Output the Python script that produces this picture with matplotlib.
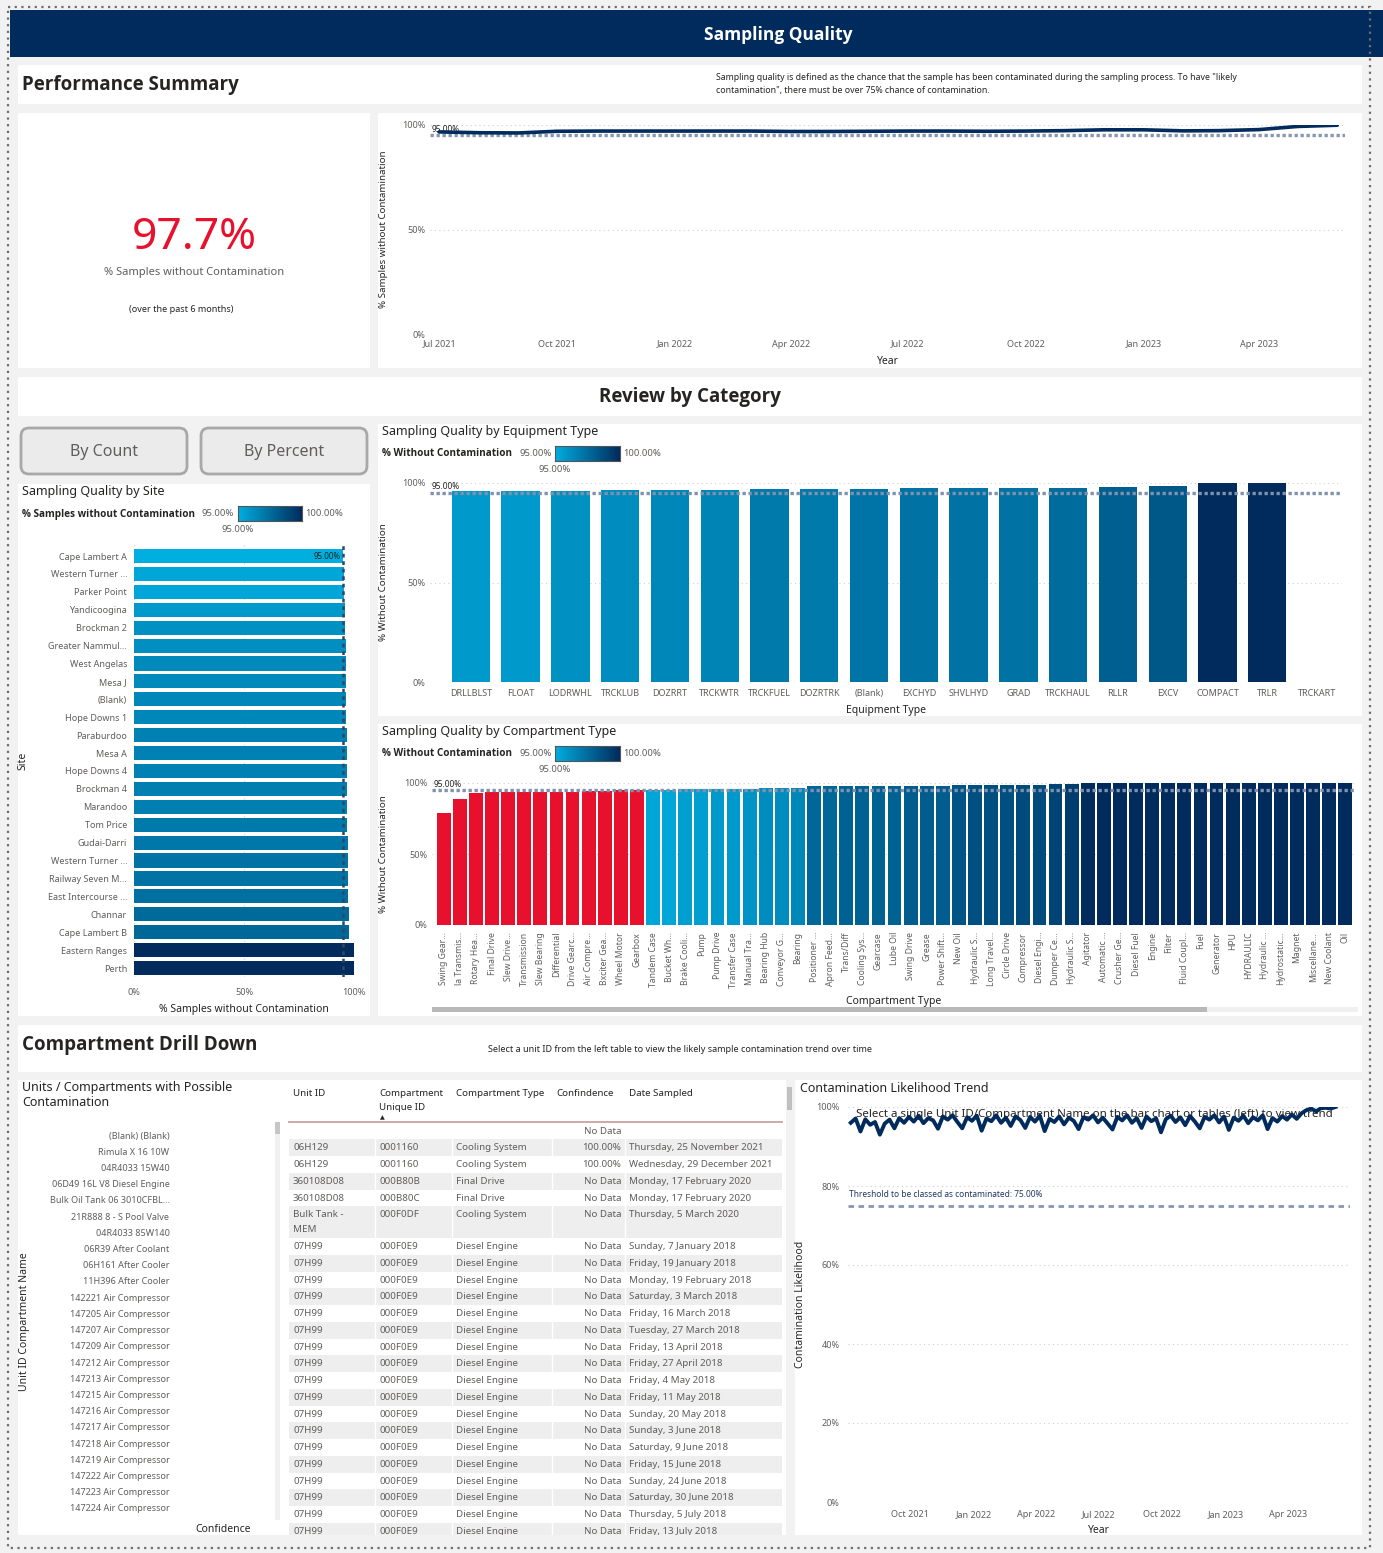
import numpy as np
import pandas as pd
import matplotlib
matplotlib.use('Agg')
import matplotlib.pyplot as plt
import matplotlib.dates as mdates
from matplotlib.patches import Rectangle, FancyBboxPatch
from matplotlib.colors import LinearSegmentedColormap

plt.rcParams['font.family'] = ['Noto Sans', 'DejaVu Sans']
BOLD = ['Open Sans', 'DejaVu Sans']

# ---------------- data ----------------
# monthly % samples without contamination (top line chart)
month_start = '2021-07-01'
monthly_pct = [96.7, 96.3, 96.2, 97.0, 97.1, 97.1, 97.1, 97.1, 97.1, 96.9, 96.9, 97.0,
               97.1, 97.1, 97.0, 97.1, 97.3, 97.7, 97.7, 97.2, 97.3, 97.8, 99.3, 99.9]
kpi_value = '97.7%'

site_names = ['Cape Lambert A', 'Western Turner ...', 'Parker Point', 'Yandicoogina',
              'Brockman 2', 'Greater Nammul...', 'West Angelas', 'Mesa J', '(Blank)',
              'Hope Downs 1', 'Paraburdoo', 'Mesa A', 'Hope Downs 4', 'Brockman 4',
              'Marandoo', 'Tom Price', 'Gudai-Darri', 'Western Turner ...',
              'Railway Seven M...', 'East Intercourse ...', 'Channar', 'Cape Lambert B',
              'Eastern Ranges', 'Perth']
site_pct = [95.0, 95.3, 95.3, 95.8, 96.1, 96.2, 96.4, 96.4, 96.5, 96.5, 96.7, 96.7,
            96.7, 96.8, 96.8, 97.0, 97.1, 97.3, 97.3, 97.4, 97.6, 97.7, 100.0, 100.0]

equip_names = ['DRLLBLST', 'FLOAT', 'LODRWHL', 'TRCKLUB', 'DOZRRT', 'TRCKWTR', 'TRCKFUEL',
               'DOZRTRK', '(Blank)', 'EXCHYD', 'SHVLHYD', 'GRAD', 'TRCKHAUL', 'RLLR',
               'EXCV', 'COMPACT', 'TRLR', 'TRCKART']
equip_pct = [95.8, 95.8, 96.1, 96.3, 96.5, 96.6, 97.0, 97.0, 97.2, 97.3, 97.3, 97.3,
             97.5, 98.0, 98.3, 100.0, 100.0, np.nan]

comp_names = ['Swing Gear...', 'la Transmis...', 'Rotary Hea...', 'Final Drive',
              'Slew Drive...', 'Transmission', 'Slew Bearing', 'Differential',
              'Drive Gearc...', 'Air Compre...', 'Bxciter Gea...', 'Wheel Motor', 'Gearbox',
              'Tandem Case', 'Bucket Wh...', 'Brake Cooli...', 'Pump', 'Pump Drive',
              'Transfer Case', 'Manual Tra...', 'Bearing Hub', 'Conveyor G...', 'Bearing',
              'Positioner ...', 'Apron Feed...', 'Trans/Diff', 'Cooling Sys...', 'Gearcase',
              'Lube Oil', 'Swing Drive', 'Grease', 'Power Shift...', 'New Oil',
              'Hydraulic S...', 'Long Travel...', 'Circle Drive', 'Compressor',
              'Diesel Engi...', 'Dumper Ce...', 'Hydraulic S...', 'Agitator', 'Automatic ...',
              'Crusher Ge...', 'Diesel Fuel', 'Engine', 'Filter', 'Fluid Coupl...', 'Fuel',
              'Generator', 'HPU', 'HYDRAULIC', 'Hydraulic ...', 'Hydrostatic...', 'Magnet',
              'Miscellane...', 'New Coolant', 'Oil']
comp_pct = [78.7, 89.0, 92.7, 93.4, 93.4, 93.7, 93.7, 93.9, 93.9, 94.4, 94.6, 94.8, 94.9,
            95.3, 95.3, 95.6, 95.6, 95.8, 95.8, 96.0, 96.3, 96.3, 96.5, 97.7, 97.7, 97.9,
            97.9, 97.9, 97.9, 98.1, 98.1, 98.1, 98.4, 98.6, 98.6, 98.6, 98.8, 98.8, 99.1,
            99.3, 100.0, 100.0, 100.0, 100.0, 100.0, 100.0, 100.0, 100.0, 100.0, 100.0,
            100.0, 100.0, 100.0, 100.0, 100.0, 100.0, 100.0]

unit_compartments = ['(Blank) (Blank)', 'Rimula X 16 10W', '04R4033 15W40',
                     '06D49 16L V8 Diesel Engine', 'Bulk Oil Tank 06 3010CFBL...',
                     '21R888 8 - S Pool Valve', '04R4033 85W140', '06R39 After Coolant',
                     '06H161 After Cooler', '11H396 After Cooler', '142221 Air Compressor',
                     '147205 Air Compressor', '147207 Air Compressor', '147209 Air Compressor',
                     '147212 Air Compressor', '147213 Air Compressor', '147215 Air Compressor',
                     '147216 Air Compressor', '147217 Air Compressor', '147218 Air Compressor',
                     '147219 Air Compressor', '147222 Air Compressor', '147223 Air Compressor',
                     '147224 Air Compressor']

table_headers = ['Unit ID', 'Compartment\nUnique ID', 'Compartment Type', 'Confindence',
                 'Date Sampled']
unit_ids = ['', '06H129', '06H129', '360108D08', '360108D08', 'Bulk Tank -\nMEM'] + ['07H99'] * 18
comp_ids = ['', '0001160', '0001160', '000B80B', '000B80C', '000F0DF'] + ['000F0E9'] * 18
comp_types = ['', 'Cooling System', 'Cooling System', 'Final Drive', 'Final Drive',
              'Cooling System'] + ['Diesel Engine'] * 18
confidence = ['No Data', '100.00%', '100.00%'] + ['No Data'] * 21
dates_sampled = ['', 'Thursday, 25 November 2021', 'Wednesday, 29 December 2021',
                 'Monday, 17 February 2020', 'Monday, 17 February 2020',
                 'Thursday, 5 March 2020', 'Sunday, 7 January 2018', 'Friday, 19 January 2018',
                 'Monday, 19 February 2018', 'Saturday, 3 March 2018', 'Friday, 16 March 2018',
                 'Tuesday, 27 March 2018', 'Friday, 13 April 2018', 'Friday, 27 April 2018',
                 'Friday, 4 May 2018', 'Friday, 11 May 2018', 'Sunday, 20 May 2018',
                 'Sunday, 3 June 2018', 'Saturday, 9 June 2018', 'Friday, 15 June 2018',
                 'Sunday, 24 June 2018', 'Saturday, 30 June 2018', 'Thursday, 5 July 2018',
                 'Friday, 13 July 2018']

# weekly contamination likelihood trend
trend_start = '2021-07-08'
trend_pct = [96.0, 97.1, 93.8, 96.9, 95.5, 96.2, 93.0, 95.8, 96.8, 94.6, 97.2, 96.0, 97.5,
             96.3, 97.8, 95.9, 97.2, 96.6, 94.5, 97.6, 96.8, 97.9, 96.2, 94.6, 97.4,
             96.5, 97.8, 94.0, 97.1, 96.4, 97.9, 96.0, 97.3, 95.2, 97.6, 96.7, 94.7,
             97.5, 96.3, 97.8, 93.9, 97.0, 96.2, 97.6, 95.6, 97.3, 96.5, 94.4, 97.4,
             96.8, 97.9, 96.1, 97.3, 95.8, 94.3, 97.5, 96.6, 97.9, 96.0, 97.2, 94.7,
             97.6, 96.4, 97.1, 93.6, 96.9, 97.8, 96.2, 97.4, 95.4, 97.7, 96.3, 94.6,
             97.5, 96.8, 97.9, 96.1, 97.6, 94.2, 97.3, 96.5, 97.8, 95.9, 97.4, 96.6,
             97.9, 94.4, 97.2, 96.3, 97.7, 96.8, 98.1, 97.0, 98.4, 99.2, 99.6, 98.9,
             99.7, 99.8, 99.6, 100.0]
threshold = 75.0
target = 95.0

# ---------------- helpers ----------------
W, H = 1383, 1553
fig = plt.figure(figsize=(W / 100, H / 100), dpi=100)
fig.patch.set_facecolor('#f2f2f2')

NAVY = '#002b5c'
TXT = '#252423'
GREY = '#605e5c'
cmap = LinearSegmentedColormap.from_list('pbi', ['#00aee0', NAVY])


def shade(v, red_below=None):
    if red_below is not None and v < red_below:
        return '#e8112d'
    return cmap(float(np.clip((v - 95) / 5, 0, 1)))


def px_axes(x0, y0, x1, y1):
    return fig.add_axes([x0 / W, 1 - y1 / H, (x1 - x0) / W, (y1 - y0) / H])


def style(ax):
    ax.patch.set_alpha(0)
    for s in ax.spines.values():
        s.set_visible(False)
    ax.tick_params(length=0, labelsize=6.5, labelcolor=GREY)


def quarter_axis(ax):
    ax.xaxis.set_major_locator(mdates.MonthLocator(bymonth=[1, 4, 7, 10]))
    ax.xaxis.set_major_formatter(mdates.DateFormatter('%b %Y'))


bg = fig.add_axes([0, 0, 1, 1])
bg.set_xlim(0, W)
bg.set_ylim(H, 0)
bg.axis('off')

# panels
bg.add_patch(Rectangle((10, 10), W - 10, 47, fc=NAVY, ec='none'))
for x0, y0, x1, y1 in [(18, 65, 1362, 104), (18, 113, 370, 368), (378, 113, 1362, 368),
                       (18, 377, 1362, 416), (18, 484, 370, 1016), (378, 424, 1362, 716),
                       (378, 724, 1362, 1016), (18, 1025, 1362, 1072), (18, 1080, 786, 1535),
                       (795, 1080, 1362, 1535)]:
    bg.add_patch(Rectangle((x0, y0), x1 - x0, y1 - y0, fc='white', ec='none'))
bg.add_patch(Rectangle((8, 7), 1362, 1541, fc='none', ec='#6e6e6e', lw=1.6,
                       linestyle=(0, (1, 2))))

bg.text(778, 35, 'Sampling Quality', color='white', fontsize=12.5, fontweight='bold',
        family=BOLD, ha='center', va='center')
bg.text(22, 85, 'Performance Summary', color=TXT, fontsize=13.5, fontweight='bold',
        family=BOLD, va='center')
bg.text(716, 77, 'Sampling quality is defined as the chance that the sample has been contaminated '
        'during the sampling process. To have "likely', fontsize=6.3, color=TXT, va='center')
bg.text(716, 91, 'contamination", there must be over 75% chance of contamination.',
        fontsize=6.3, color=TXT, va='center')

# KPI card
bg.text(194, 238, kpi_value, color='#e8112d', fontsize=32, ha='center', va='center')
bg.text(194, 272, '% Samples without Contamination', color=GREY, fontsize=8, ha='center',
        va='center')
bg.text(181, 309, '(over the past 6 months)', color=TXT, fontsize=6.5, ha='center', va='center')

# ---------------- top line chart ----------------
months = pd.date_range(month_start, periods=len(monthly_pct), freq='MS')
ax = px_axes(430, 125, 1345, 334)
style(ax)
ax.plot(months, monthly_pct, color=NAVY, lw=2.6, zorder=4, solid_capstyle='round')
ax.axhline(target, color='#8798b3', lw=2.4, linestyle=(0, (1, 0.8)), zorder=3)
ax.text(0.002, target + 0.8, '95.00%', transform=ax.get_yaxis_transform(), fontsize=6,
        color=TXT, va='bottom')
ax.set_ylim(0, 100)
ax.set_yticks([0, 50, 100])
ax.set_yticklabels(['0%', '50%', '100%'])
ax.set_xlim(pd.Timestamp('2021-06-24'), pd.Timestamp('2023-06-07'))
quarter_axis(ax)
ax.grid(axis='y', color='#cfcfcf', linestyle=(0, (1, 3)), lw=0.8)
ax.tick_params(axis='x', pad=4)
ax.set_ylabel('% Samples without Contamination', fontsize=7, color=TXT)
ax.yaxis.set_label_coords(-0.046, 0.5)
ax.set_xlabel('Year', fontsize=7.5, color=TXT)
ax.xaxis.set_label_coords(0.5, -0.105)

# ---------------- review by category ----------------
bg.text(690, 397, 'Review by Category', color=TXT, fontsize=13.5, fontweight='bold',
        family=BOLD, ha='center', va='center')
for bx, label in [(21, 'By Count'), (201, 'By Percent')]:
    bg.add_patch(FancyBboxPatch((bx, 428), 166, 46, boxstyle='round,pad=0,rounding_size=8',
                                fc='#ebebeb', ec='#a8a8a8', lw=2))
    bg.text(bx + 83, 452, label, color=GREY, fontsize=11.5, ha='center', va='center')


def gradient_legend(title, tx, ty, label, lx, gx0, gx1):
    bg.text(tx, ty, title, fontsize=9, color=TXT, va='center')
    bg.text(tx, ty + 22, label, fontsize=7.2, fontweight='bold', family=BOLD, color=TXT,
            va='center')
    bg.text(lx, ty + 22, '95.00%', fontsize=6.8, color=GREY, va='center')
    bg.text(gx1 + 3, ty + 22, '100.00%', fontsize=6.8, color=GREY, va='center')
    bg.text(gx0, ty + 38, '95.00%', fontsize=6.8, color=GREY, va='center', ha='center')
    g = px_axes(gx0, ty + 14, gx1, ty + 29)
    g.imshow(np.linspace(0, 1, 256)[None, :], aspect='auto', cmap=cmap)
    g.set_xticks([])
    g.set_yticks([])
    for s in g.spines.values():
        s.set_color('#555555')
        s.set_linewidth(0.8)


# site chart
gradient_legend('Sampling Quality by Site', 22, 492, '% Samples without Contamination',
                201, 238, 302)
ax = px_axes(134, 544, 354, 977)
style(ax)
ypos = np.arange(len(site_names))
ax.barh(ypos, site_pct, height=0.79, color=[shade(v) for v in site_pct], zorder=2)
ax.axvline(target, color='#2f4766', lw=1.8, linestyle=(0, (1.5, 1.5)), zorder=3)
ax.text(target - 1, 0, '95.00%', fontsize=5.8, color=TXT, ha='right', va='center', zorder=4)
ax.set_xlim(0, 100)
ax.set_ylim(len(site_names) - 0.5, -0.67)
ax.set_yticks(ypos)
ax.set_yticklabels(site_names, fontsize=6.5)
ax.set_xticks([0, 50, 100])
ax.set_xticklabels(['0%', '50%', '100%'])
ax.tick_params(axis='y', pad=5)
ax.tick_params(axis='x', pad=8)
ax.grid(axis='x', color='#cfcfcf', linestyle=(0, (1, 3)), lw=0.8, zorder=0)
ax.set_ylabel('Site', fontsize=7.5, color=TXT)
ax.yaxis.set_label_coords(-0.48, 0.5)
ax.set_xlabel('% Samples without Contamination', fontsize=7.5, color=TXT)
ax.xaxis.set_label_coords(0.5, -0.062)

# equipment chart
gradient_legend('Sampling Quality by Equipment Type', 382, 432, '% Without Contamination',
                519, 555, 620)
ax = px_axes(430, 483, 1342, 682)
style(ax)
xpos = np.arange(len(equip_names))
ax.bar(xpos, equip_pct, width=0.77,
       color=[shade(v) if not np.isnan(v) else 'none' for v in equip_pct], zorder=2)
ax.axhline(target, color='#7f91ad', lw=2.4, linestyle=(0, (1, 0.8)), zorder=3)
ax.text(0.002, target + 0.8, '95.00%', transform=ax.get_yaxis_transform(), fontsize=6,
        color=TXT, va='bottom', zorder=4)
ax.set_ylim(0, 100)
ax.set_xlim(-0.82, len(equip_names) - 0.5)
ax.set_yticks([0, 50, 100])
ax.set_yticklabels(['0%', '50%', '100%'])
ax.set_xticks(xpos)
ax.set_xticklabels(equip_names)
ax.tick_params(axis='x', pad=5)
ax.grid(axis='y', color='#cfcfcf', linestyle=(0, (1, 3)), lw=0.8, zorder=0)
ax.set_ylabel('% Without Contamination', fontsize=7, color=TXT)
ax.yaxis.set_label_coords(-0.046, 0.5)
ax.set_xlabel('Equipment Type', fontsize=7.5, color=TXT)
ax.xaxis.set_label_coords(0.5, -0.115)

# compartment chart
gradient_legend('Sampling Quality by Compartment Type', 382, 732, '% Without Contamination',
                519, 555, 620)
ax = px_axes(432, 783, 1355, 925)
style(ax)
xpos = np.arange(len(comp_names))
ax.bar(xpos, comp_pct, width=0.86, color=[shade(v, red_below=target) for v in comp_pct],
       zorder=2)
ax.axhline(target, color='#7f91ad', lw=2.4, linestyle=(0, (1, 0.8)), zorder=3)
ax.text(0.002, target + 1, '95.00%', transform=ax.get_yaxis_transform(), fontsize=6,
        color=TXT, va='bottom', zorder=4)
ax.set_ylim(0, 100)
ax.set_xlim(-0.73, len(comp_names) - 0.4)
ax.set_yticks([0, 50, 100])
ax.set_yticklabels(['0%', '50%', '100%'])
ax.set_xticks(xpos)
ax.set_xticklabels(comp_names, rotation=90, fontsize=6.2)
ax.tick_params(axis='x', pad=5)
ax.grid(axis='y', color='#cfcfcf', linestyle=(0, (1, 3)), lw=0.8, zorder=0)
ax.set_ylabel('% Without Contamination', fontsize=7, color=TXT)
ax.yaxis.set_label_coords(-0.048, 0.5)
ax.set_xlabel('Compartment Type', fontsize=7.5, color=TXT)
ax.xaxis.set_label_coords(0.5, -0.5)
bg.add_patch(Rectangle((432, 1007), 926, 5, fc='#f0f0f0', ec='none'))
bg.add_patch(Rectangle((432, 1007), 775, 5, fc='#b8b8b8', ec='none'))

# ---------------- compartment drill down ----------------
bg.text(22, 1045, 'Compartment Drill Down', color=TXT, fontsize=13.5, fontweight='bold',
        family=BOLD, va='center')
bg.text(488, 1049, 'Select a unit ID from the left table to view the likely sample '
        'contamination trend over time', fontsize=6.5, color=TXT, va='center')

bg.text(22, 1081, 'Units / Compartments with Possible\nContamination', fontsize=9, color=TXT,
        va='top', linespacing=1.25)
ax = px_axes(175, 1127, 275, 1516)
style(ax)
ax.set_ylim(len(unit_compartments) - 0.5, -0.5)
ax.set_yticks(np.arange(len(unit_compartments)))
ax.set_yticklabels(unit_compartments, fontsize=6.5)
ax.tick_params(axis='y', pad=4)
ax.set_xticks([])
ax.set_xlabel('Confidence', fontsize=7.5, color=TXT)
ax.xaxis.set_label_coords(0.48, -0.02)
ax.set_ylabel('Unit ID Compartment Name', fontsize=7.5, color=TXT)
ax.yaxis.set_label_coords(-1.45, 0.5)
bg.add_patch(Rectangle((275, 1122), 5, 398, fc='#f0f0f0', ec='none'))
bg.add_patch(Rectangle((275, 1122), 5, 12, fc='#c6c6c6', ec='none'))

# table
tbl = px_axes(288, 1080, 783, 1535)
tbl.set_xlim(288, 783)
tbl.set_ylim(1535, 1080)
tbl.axis('off')
col_x = [293, 379, 456, 621, 629]
col_ha = ['left', 'left', 'left', 'right', 'left']
hdr_x = [293, 379, 456, 556, 629]
for hx, hdr in zip(hdr_x, table_headers):
    for j, line in enumerate(hdr.split('\n')):
        tbl.text(hx, 1093 + 15 * j, line, fontsize=7, color=TXT, va='center')
tbl.text(382, 1118, '▲', fontsize=4.5, color=TXT, ha='center', va='center',
         family=['DejaVu Sans'])
tbl.plot([289, 782], [1122, 1122], color='#c9a2a2', lw=1.3)
row_top = 1122.6
for i in range(len(unit_ids)):
    cells = [unit_ids[i], comp_ids[i], comp_types[i], confidence[i], dates_sampled[i]]
    n_lines = max(c.count('\n') + 1 for c in cells)
    h = 16.75 + 15 * (n_lines - 1)
    if i % 2 == 1:
        tbl.add_patch(Rectangle((289, row_top), 493, h, fc='#eeeeee', ec='none', zorder=0))
        for sx in [375, 452, 552, 625]:
            tbl.plot([sx, sx], [row_top, row_top + h], color='white', lw=1, zorder=1)
    for cx, ha, cell in zip(col_x, col_ha, cells):
        for j, line in enumerate(cell.split('\n')):
            tbl.text(cx, row_top + 8.6 + 15 * j, line, fontsize=7, color=GREY, ha=ha,
                     va='center', clip_on=True)
    row_top += h
bg.add_patch(Rectangle((787, 1087), 5, 23, fc='#c0c0c0', ec='none'))

# ---------------- contamination trend ----------------
bg.text(800, 1088, 'Contamination Likelihood Trend', fontsize=9, color=TXT, va='center')
weeks = pd.date_range(trend_start, periods=len(trend_pct), freq='7D')
ax = px_axes(848, 1107, 1350, 1502)
style(ax)
ax.text(0.49, 0.982, 'Select a single Unit ID/Compartment Name on the bar chart or tables '
        '(left) to view trend', transform=ax.transAxes, fontsize=8.3, color=TXT,
        ha='center', va='center', zorder=2)
ax.plot(weeks, trend_pct, color=NAVY, lw=2.8, zorder=3)
ax.axhline(threshold, color='#8798b3', lw=2, linestyle=(0, (2, 1.6)), zorder=3)
ax.text(0.002, threshold + 1.8, 'Threshold to be classed as contaminated: 75.00%',
        transform=ax.get_yaxis_transform(), fontsize=6, color='#1f3864', va='bottom')
ax.set_ylim(0, 100)
ax.set_yticks([0, 20, 40, 60, 80, 100])
ax.set_yticklabels(['0%', '20%', '40%', '60%', '80%', '100%'])
ax.set_xlim(pd.Timestamp('2021-07-04'), pd.Timestamp('2023-06-29'))
quarter_axis(ax)
ax.tick_params(axis='x', pad=6)
ax.tick_params(axis='y', pad=6)
ax.grid(axis='y', color='#cfcfcf', linestyle=(0, (1, 3)), lw=0.8, zorder=0)
ax.set_ylabel('Contamination Likelihood', fontsize=7.5, color=TXT)
ax.yaxis.set_label_coords(-0.084, 0.5)
ax.set_xlabel('Year', fontsize=7.5, color=TXT)
ax.xaxis.set_label_coords(0.5, -0.058)

fig.savefig('out.png', dpi=100, facecolor=fig.get_facecolor())
